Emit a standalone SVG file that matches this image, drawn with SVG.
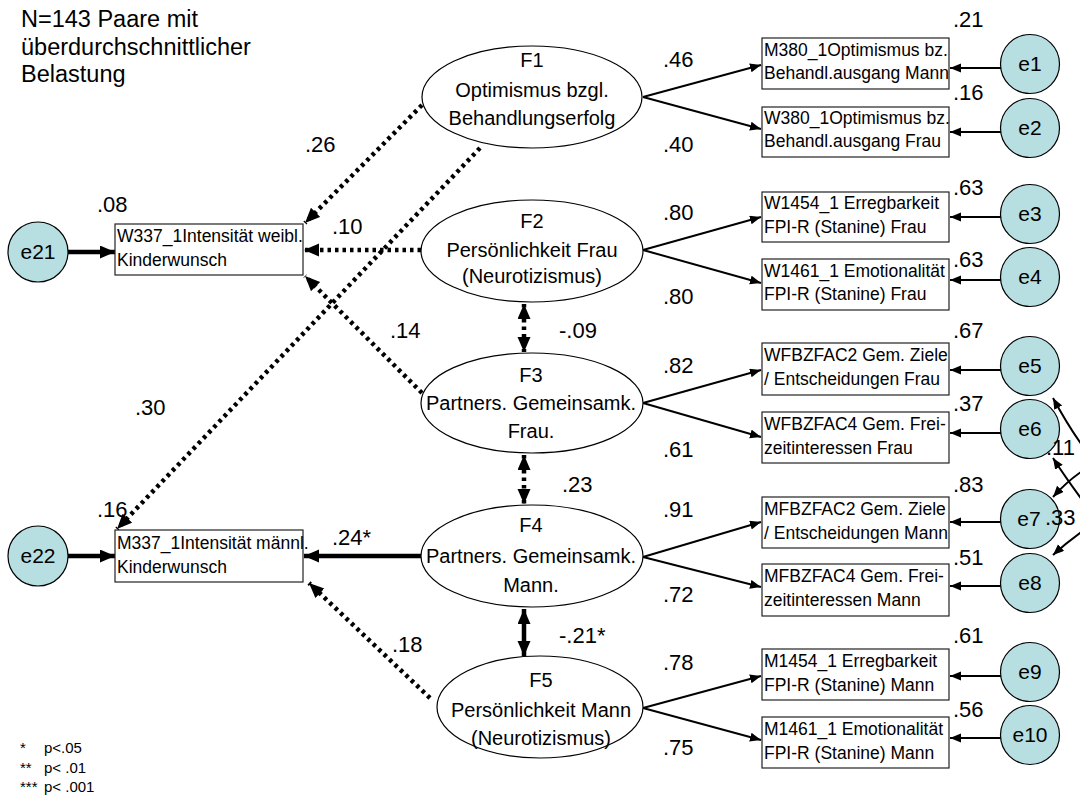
<svg xmlns="http://www.w3.org/2000/svg" width="1080" height="801" viewBox="0 0 1080 801">
<style>
text{font-family:"Liberation Sans",Arial,sans-serif;fill:#000}
.lab{font-size:22px}
.ft{font-size:20px;text-anchor:middle}
.bt{font-size:17.5px}
.et{font-size:21px;text-anchor:middle}
.hd{font-size:23.5px}
.lg{font-size:15px}
.box{fill:#fff;stroke:#222;stroke-width:1.2}
.lat{fill:#fff;stroke:#000;stroke-width:1.2}
.err{fill:#b7dee1;stroke:#000;stroke-width:1.2}
.thin{fill:none;stroke:#000;stroke-width:2}
.thick{fill:none;stroke:#000;stroke-width:4.5}
.dot{fill:none;stroke:#000;stroke-width:4.5;stroke-dasharray:3.5 4}
</style>
<defs>
<marker id="ah" markerUnits="userSpaceOnUse" markerWidth="12" markerHeight="10" refX="11" refY="4.5" orient="auto-start-reverse"><path d="M0,0 L11,4.5 L0,9 z" fill="#000"/></marker>
<marker id="ahb" markerUnits="userSpaceOnUse" markerWidth="16" markerHeight="14" refX="15" refY="6.5" orient="auto-start-reverse"><path d="M0,0 L15,6.5 L0,13 z" fill="#000"/></marker>
</defs>

<g id="title">
<text class="hd" x="21" y="27">N=143 Paare mit</text>
<text class="hd" x="21" y="55">überdurchschnittlicher</text>
<text class="hd" x="21" y="82">Belastung</text>
</g>

<g id="legend">
<text class="lg" x="20" y="753">*</text><text class="lg" x="44" y="753">p&lt;.05</text>
<text class="lg" x="20" y="773">**</text><text class="lg" x="44" y="773">p&lt; .01</text>
<text class="lg" x="20" y="792">***</text><text class="lg" x="44" y="792">p&lt; .001</text>
</g>

<g id="connectors">
<path class="thin" d="M643,97 L761,65" marker-end="url(#ah)"/>
<path class="thin" d="M643,97 L761,129" marker-end="url(#ah)"/>
<path class="thin" d="M643,250 L761,217" marker-end="url(#ah)"/>
<path class="thin" d="M643,250 L761,283" marker-end="url(#ah)"/>
<path class="thin" d="M643,403 L761,370" marker-end="url(#ah)"/>
<path class="thin" d="M643,403 L761,437" marker-end="url(#ah)"/>
<path class="thin" d="M643,557 L761,522" marker-end="url(#ah)"/>
<path class="thin" d="M643,557 L761,587" marker-end="url(#ah)"/>
<path class="thin" d="M643,708 L761,676" marker-end="url(#ah)"/>
<path class="thin" d="M643,708 L761,740" marker-end="url(#ah)"/>
<path class="thin" d="M1001,68 L950,68" marker-end="url(#ah)"/>
<path class="thin" d="M1001,132 L950,132" marker-end="url(#ah)"/>
<path class="thin" d="M1001,217 L950,217" marker-end="url(#ah)"/>
<path class="thin" d="M1001,280 L950,280" marker-end="url(#ah)"/>
<path class="thin" d="M1001,370 L950,370" marker-end="url(#ah)"/>
<path class="thin" d="M1001,433 L950,433" marker-end="url(#ah)"/>
<path class="thin" d="M1001,522 L950,522" marker-end="url(#ah)"/>
<path class="thin" d="M1001,586 L950,586" marker-end="url(#ah)"/>
<path class="thin" d="M1001,676 L950,676" marker-end="url(#ah)"/>
<path class="thin" d="M1001,738 L950,738" marker-end="url(#ah)"/>
<path class="thin" d="M1053,398 C1107,498 1107,437 1053,497" marker-start="url(#ah)" marker-end="url(#ah)"/>
<path class="thin" d="M1053,458 C1107,542 1107,505 1053,555" marker-start="url(#ah)" marker-end="url(#ah)"/>
<path class="thick" d="M68,252 L115,252" marker-end="url(#ahb)"/>
<path class="thick" d="M68,556 L115,556" marker-end="url(#ahb)"/>
<path class="dot" d="M422,105 L305,223" marker-end="url(#ahb)"/>
<path class="dot" d="M480,148 L117,529" marker-end="url(#ahb)"/>
<path class="dot" d="M421,250 L304,250" marker-end="url(#ahb)"/>
<path class="dot" d="M422,393 L305,276" marker-end="url(#ahb)"/>
<path class="thick" d="M421,556 L304,556" marker-end="url(#ahb)"/>
<path class="dot" d="M430,698 L309,583" marker-end="url(#ahb)"/>
<path class="dot" d="M524,304 L524,352" marker-start="url(#ahb)" marker-end="url(#ahb)"/>
<path class="dot" d="M524,455 L524,504" marker-start="url(#ahb)" marker-end="url(#ahb)"/>
<path class="thick" d="M524,609 L524,656" marker-start="url(#ahb)" marker-end="url(#ahb)"/>
</g>

<g id="labels">
<text class="lab" x="663" y="67">.46</text>
<text class="lab" x="663" y="152">.40</text>
<text class="lab" x="663" y="220">.80</text>
<text class="lab" x="663" y="304">.80</text>
<text class="lab" x="663" y="373">.82</text>
<text class="lab" x="663" y="457">.61</text>
<text class="lab" x="663" y="517">.91</text>
<text class="lab" x="663" y="602">.72</text>
<text class="lab" x="663" y="670">.78</text>
<text class="lab" x="663" y="755">.75</text>
<text class="lab" x="953" y="27">.21</text>
<text class="lab" x="953" y="100">.16</text>
<text class="lab" x="953" y="195">.63</text>
<text class="lab" x="953" y="267">.63</text>
<text class="lab" x="953" y="338">.67</text>
<text class="lab" x="953" y="411">.37</text>
<text class="lab" x="953" y="492">.83</text>
<text class="lab" x="953" y="565">.51</text>
<text class="lab" x="953" y="643">.61</text>
<text class="lab" x="953" y="717">.56</text>
<text class="lab" x="97" y="212">.08</text>
<text class="lab" x="305" y="152">.26</text>
<text class="lab" x="332" y="234">.10</text>
<text class="lab" x="97" y="517">.16</text>
<text class="lab" x="135" y="415">.30</text>
<text class="lab" x="332" y="545">.24*</text>
<text class="lab" x="390" y="338">.14</text>
<text class="lab" x="559" y="338">-.09</text>
<text class="lab" x="562" y="492">.23</text>
<text class="lab" x="559" y="643">-.21*</text>
<text class="lab" x="392" y="652">.18</text>
</g>

<g id="F1"><ellipse class="lat" cx="532" cy="97" rx="110" ry="51"/>
<text class="ft" x="532" y="67">F1</text><text class="ft" x="532" y="97">Optimismus bzgl.</text><text class="ft" x="532" y="125">Behandlungserfolg</text></g>
<g id="F2"><ellipse class="lat" cx="532" cy="251" rx="111" ry="51"/>
<text class="ft" x="532" y="228">F2</text><text class="ft" x="532" y="257">Persönlichkeit Frau</text><text class="ft" x="532" y="283">(Neurotizismus)</text></g>
<g id="F3"><ellipse class="lat" cx="532" cy="403" rx="111" ry="50"/>
<text class="ft" x="531" y="382">F3</text><text class="ft" x="531" y="410">Partners. Gemeinsamk.</text><text class="ft" x="531" y="438">Frau.</text></g>
<g id="F4"><ellipse class="lat" cx="532" cy="556" rx="111" ry="51"/>
<text class="ft" x="531" y="532">F4</text><text class="ft" x="531" y="563">Partners. Gemeinsamk.</text><text class="ft" x="531" y="592">Mann.</text></g>
<g id="F5"><ellipse class="lat" cx="540" cy="707" rx="103" ry="51"/>
<text class="ft" x="541" y="687">F5</text><text class="ft" x="541" y="717">Persönlichkeit Mann</text><text class="ft" x="541" y="745">(Neurotizismus)</text></g>

<g id="W337"><rect class="box" x="115" y="224" width="188" height="51"/>
<text class="bt" x="117" y="242">W337_1Intensität weibl.</text><text class="bt" x="117" y="266">Kinderwunsch</text></g>
<g id="M337"><rect class="box" x="115" y="530" width="188" height="52"/>
<text class="bt" x="117" y="549">M337_1Intensität männl.</text><text class="bt" x="117" y="573">Kinderwunsch</text></g>

<g id="M380"><rect class="box" x="762" y="38" width="187" height="51"/>
<text class="bt" x="764" y="56">M380_1Optimismus bz.</text><text class="bt" x="764" y="79">Behandl.ausgang Mann</text></g>
<g id="W380"><rect class="box" x="762" y="107" width="187" height="50"/>
<text class="bt" x="764" y="124">W380_1Optimismus bz.</text><text class="bt" x="764" y="147">Behandl.ausgang Frau</text></g>
<g id="W1454"><rect class="box" x="762" y="192" width="187" height="50"/>
<text class="bt" x="764" y="209">W1454_1 Erregbarkeit</text><text class="bt" x="764" y="233">FPI-R (Stanine) Frau</text></g>
<g id="W1461"><rect class="box" x="762" y="259" width="187" height="51"/>
<text class="bt" x="764" y="277">W1461_1 Emotionalität</text><text class="bt" x="764" y="300">FPI-R (Stanine) Frau</text></g>
<g id="WFBZFAC2"><rect class="box" x="762" y="343" width="187" height="52"/>
<text class="bt" x="764" y="361">WFBZFAC2 Gem. Ziele</text><text class="bt" x="764" y="385"> / Entscheidungen Frau</text></g>
<g id="WFBZFAC4"><rect class="box" x="762" y="412" width="187" height="51"/>
<text class="bt" x="764" y="430">WFBZFAC4 Gem. Frei-</text><text class="bt" x="764" y="454">zeitinteressen Frau</text></g>
<g id="MFBZFAC2"><rect class="box" x="762" y="497" width="187" height="51"/>
<text class="bt" x="764" y="515">MFBZFAC2 Gem. Ziele</text><text class="bt" x="764" y="539"> / Entscheidungen Mann</text></g>
<g id="MFBZFAC4"><rect class="box" x="762" y="564" width="187" height="52"/>
<text class="bt" x="764" y="582">MFBZFAC4 Gem. Frei-</text><text class="bt" x="764" y="606">zeitinteressen Mann</text></g>
<g id="M1454"><rect class="box" x="762" y="649" width="187" height="51"/>
<text class="bt" x="764" y="667">M1454_1 Erregbarkeit</text><text class="bt" x="764" y="691">FPI-R (Stanine) Mann</text></g>
<g id="M1461"><rect class="box" x="762" y="717" width="187" height="51"/>
<text class="bt" x="764" y="735">M1461_1 Emotionalität</text><text class="bt" x="764" y="759">FPI-R (Stanine) Mann</text></g>

<g id="e1"><circle class="err" cx="1030" cy="64" r="29.5"/><text class="et" x="1030" y="71">e1</text></g>
<g id="e2"><circle class="err" cx="1030" cy="128" r="29.5"/><text class="et" x="1030" y="135">e2</text></g>
<g id="e3"><circle class="err" cx="1030" cy="214" r="29.5"/><text class="et" x="1030" y="221">e3</text></g>
<g id="e4"><circle class="err" cx="1030" cy="277" r="29.5"/><text class="et" x="1030" y="284">e4</text></g>
<g id="e5"><circle class="err" cx="1030" cy="366" r="29.5"/><text class="et" x="1030" y="373">e5</text></g>
<g id="e6"><circle class="err" cx="1030" cy="429" r="29.5"/><text class="et" x="1030" y="436">e6</text></g>
<g id="e7"><circle class="err" cx="1030" cy="519" r="29.5"/><text class="et" x="1029" y="526">e7</text></g>
<g id="e8"><circle class="err" cx="1030" cy="583" r="29.5"/><text class="et" x="1030" y="590">e8</text></g>
<g id="e9"><circle class="err" cx="1030" cy="672" r="29.5"/><text class="et" x="1030" y="679">e9</text></g>
<g id="e10"><circle class="err" cx="1030" cy="735" r="29.5"/><text class="et" x="1030" y="742">e10</text></g>
<g id="e21"><circle class="err" cx="38" cy="252" r="30"/><text class="et" x="38" y="259">e21</text></g>
<g id="e22"><circle class="err" cx="38" cy="556" r="30"/><text class="et" x="38" y="563">e22</text></g>

<g id="corr-labels">
<text class="lab" x="1046" y="455">.11</text>
<text class="lab" x="1045" y="525">.33</text>
</g>
</svg>
